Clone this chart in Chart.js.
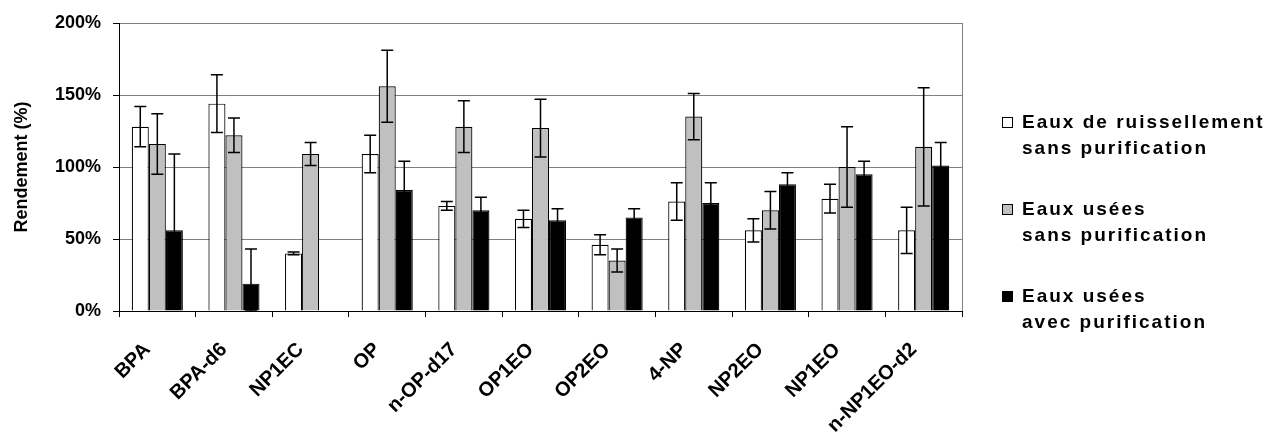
<!DOCTYPE html>
<html>
<head>
<meta charset="utf-8">
<script src="https://cdn.jsdelivr.net/npm/chart.js@4.4.0/dist/chart.umd.min.js"></script>
<style>
  html, body { margin: 0; padding: 0; background: #fff; }
  #wrap { width: 1273px; height: 432px; position: relative; }
</style>
</head>
<body>
<div id="wrap"><canvas id="chart"></canvas></div>
<script>
const CATEGORIES = ["BPA", "BPA-d6", "NP1EC", "OP", "n-OP-d17", "OP1EO", "OP2EO", "4-NP", "NP2EO", "NP1EO", "n-NP1EO-d2"];

// Eaux de ruissellement sans purification
const RUISSELLEMENT     = [128, 144, 40, 109, 73, 64, 46, 76, 56, 78, 56];
const RUISSELLEMENT_ERR = [14, 20, 1, 13, 3, 6, 7, 13, 8, 10, 16];
// Eaux usées sans purification
const USEES_SANS        = [116, 122, 109, 156, 128, 127, 35, 135, 70, 100, 114];
const USEES_SANS_ERR    = [21, 12, 8, 25, 18, 20, 8, 16, 13, 28, 41];
// Eaux usées avec purification
const USEES_AVEC        = [56, 19, 0.3, 84, 70, 63, 65, 75, 88, 95, 101];
const USEES_AVEC_ERR    = [53, 24, 0, 20, 9, 8, 6, 14, 8, 9, 16];

const SERIES_LABELS = [
    ["Eaux de ruissellement", "sans purification"],
    ["Eaux usées", "sans purification"],
    ["Eaux usées", "avec purification"]
];
const Y_TICKS = [0, 50, 100, 150, 200];

const FONT = "'Liberation Sans', Arial, sans-serif";

/* wider letters like the original */
const spacing = {
    id: "spacing",
    beforeInit(chart) { chart.ctx.letterSpacing = "1.5px"; }
};

/* error bars */
const errorBars = {
    id: "errorBars",
    afterDatasetsDraw(chart) {
        const ctx = chart.ctx;
        const y = chart.scales.y;
        chart.data.datasets.forEach((ds, i) => {
            const meta = chart.getDatasetMeta(i);
            meta.data.forEach((bar, j) => {
                const e = ds.errors[j];
                if (!e) return;
                const v = ds.data[j];
                const top = y.getPixelForValue(v + e);
                const bot = y.getPixelForValue(Math.max(0, v - e));
                ctx.save();
                ctx.strokeStyle = "#000";
                ctx.lineWidth = 1.5;
                ctx.beginPath();
                ctx.moveTo(bar.x, top); ctx.lineTo(bar.x, bot);
                ctx.moveTo(bar.x - 6, top); ctx.lineTo(bar.x + 6, top);
                ctx.moveTo(bar.x - 6, bot); ctx.lineTo(bar.x + 6, bot);
                ctx.stroke();
                ctx.restore();
            });
        });
    }
};

/* right frame line + legend */
const frameAndLegend = {
    id: "frameAndLegend",
    afterDraw(chart) {
        const ctx = chart.ctx;
        const a = chart.chartArea;
        ctx.save();
        ctx.strokeStyle = "#808080";
        ctx.lineWidth = 1;
        ctx.beginPath();
        ctx.moveTo(a.right + 0.5, a.top);
        ctx.lineTo(a.right + 0.5, a.bottom);
        ctx.stroke();

        const bx = a.right + 40;
        const tx = a.right + 60;
        const rows = [128, 215, 302];
        ctx.font = "bold 19px " + FONT;
        ctx.letterSpacing = "2px";
        ctx.textBaseline = "alphabetic";
        chart.data.datasets.forEach((ds, i) => {
            const by = rows[i];
            ctx.fillStyle = ds.backgroundColor;
            ctx.fillRect(bx, by - 11, 11, 11);
            ctx.strokeStyle = "#000";
            ctx.strokeRect(bx + 0.5, by - 10.5, 10, 10);
            ctx.fillStyle = "#000";
            SERIES_LABELS[i].forEach((line, k) => {
                ctx.fillText(line, tx, by + k * 26);
            });
        });
        ctx.restore();
    }
};

new Chart(document.getElementById("chart"), {
    type: "bar",
    data: {
        labels: CATEGORIES,
        datasets: [
            { data: RUISSELLEMENT, errors: RUISSELLEMENT_ERR, backgroundColor: "#ffffff" },
            { data: USEES_SANS, errors: USEES_SANS_ERR, backgroundColor: "#c0c0c0" },
            { data: USEES_AVEC, errors: USEES_AVEC_ERR, backgroundColor: "#000000" }
        ].map(d => Object.assign(d, {
            borderColor: "#000",
            borderWidth: 1.2,
            categoryPercentage: 0.667,
            barPercentage: 1.0
        }))
    },
    options: {
        responsive: true,
        maintainAspectRatio: false,
        animation: false,
        layout: { padding: { left: 0, right: 311, top: 23, bottom: 0 } },
        plugins: {
            legend: { display: false },
            tooltip: { enabled: false }
        },
        scales: {
            x: {
                afterFit: s => { s.height = 121; },
                grid: {
                    offset: true,
                    drawOnChartArea: false,
                    drawTicks: true,
                    tickLength: 6,
                    tickColor: "#000"
                },
                border: { color: "#000", width: 1 },
                ticks: {
                    color: "#000",
                    font: { family: FONT, size: 20, weight: "bold" },
                    minRotation: 45,
                    maxRotation: 45,
                    autoSkip: false,
                    padding: 21,
                    labelOffset: -10
                }
            },
            y: {
                min: 0,
                max: 200,
                afterFit: s => { s.width = 119; },
                afterBuildTicks: s => { s.ticks = Y_TICKS.map(v => ({ value: v })); },
                grid: {
                    color: "#808080",
                    lineWidth: 1,
                    tickLength: 6,
                    tickColor: "#000"
                },
                border: { color: "#000", width: 1 },
                ticks: {
                    color: "#000",
                    font: { family: FONT, size: 18, weight: "bold" },
                    padding: 12,
                    callback: v => v + "%"
                },
                title: {
                    display: true,
                    text: "Rendement (%)",
                    color: "#000",
                    font: { family: FONT, size: 18, weight: "bold" },
                    padding: { top: 11, bottom: 0 }
                }
            }
        }
    },
    plugins: [spacing, errorBars, frameAndLegend]
});
</script>
</body>
</html>
